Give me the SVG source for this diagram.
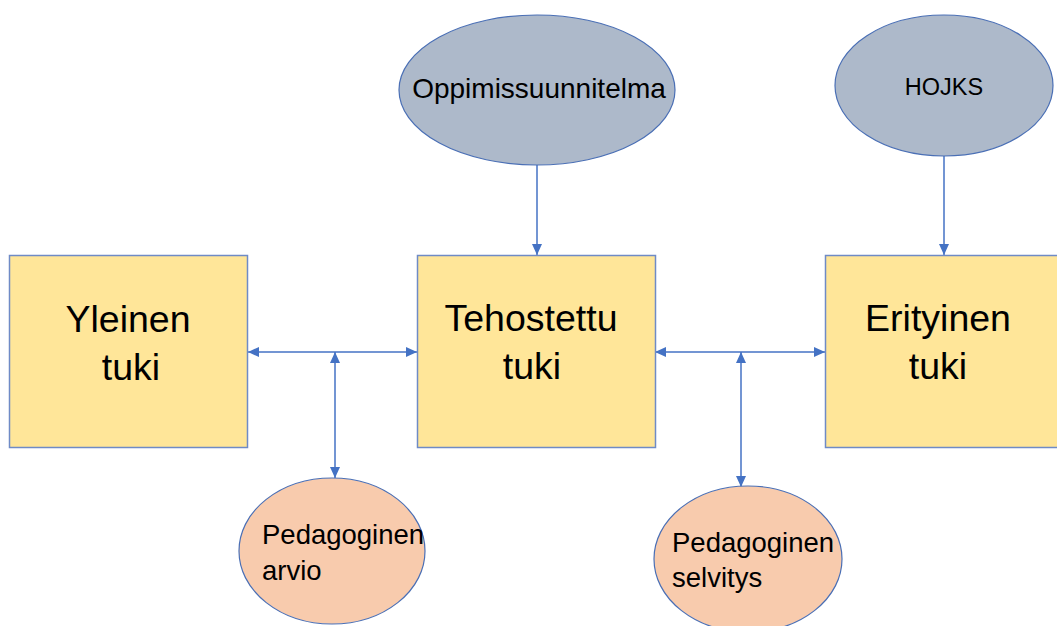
<svg xmlns="http://www.w3.org/2000/svg" width="1057" height="626" viewBox="0 0 1057 626">
<style>
.box{fill:#FFE699;stroke:#6F8BC6;stroke-width:1.5}
.top{fill:#ADB9CA;stroke:#4A6FB5;stroke-width:1.2}
.bot{fill:#F8CBAD;stroke:#4A6FB5;stroke-width:1.2}
.con{stroke:#4472C4;stroke-width:1.5;fill:none}
text{font-family:"Liberation Sans",Arial,sans-serif;fill:#000}
.big{font-size:37.5px;text-anchor:middle}
.mid{font-size:28px}
.ped{font-size:27.5px}
</style>
<defs>
<marker id="ah" markerUnits="userSpaceOnUse" markerWidth="12" markerHeight="10" viewBox="0 0 12 10" refX="11" refY="5" orient="auto-start-reverse">
<path d="M0,0 L11,5 L0,10 z" fill="#4472C4"/>
</marker>
</defs>
<rect width="1057" height="626" fill="#fff"/>
<g id="connectors">
<line class="con" x1="537" y1="165" x2="537" y2="255" marker-end="url(#ah)"/>
<line class="con" x1="944" y1="156" x2="944" y2="255" marker-end="url(#ah)"/>
<line class="con" x1="248" y1="352" x2="417" y2="352" marker-start="url(#ah)" marker-end="url(#ah)"/>
<line class="con" x1="335" y1="352" x2="335" y2="478" marker-start="url(#ah)" marker-end="url(#ah)"/>
<line class="con" x1="655" y1="352" x2="825" y2="352" marker-start="url(#ah)" marker-end="url(#ah)"/>
<line class="con" x1="741" y1="352" x2="741" y2="487" marker-start="url(#ah)" marker-end="url(#ah)"/>
</g>
<g id="yleinen">
<rect class="box" x="9.5" y="255.5" width="238" height="192"/>
<text class="big" x="128" y="332">Yleinen</text>
<text class="big" x="131" y="380">tuki</text>
</g>
<g id="tehostettu">
<rect class="box" x="417.5" y="255.5" width="238" height="192"/>
<text class="big" x="531" y="331">Tehostettu</text>
<text class="big" x="532" y="379">tuki</text>
</g>
<g id="erityinen">
<rect class="box" x="825.5" y="255.5" width="238" height="192"/>
<text class="big" x="938" y="331">Erityinen</text>
<text class="big" x="938" y="379">tuki</text>
</g>
<g id="oppimissuunnitelma">
<ellipse class="top" cx="537" cy="90" rx="138" ry="75"/>
<text class="mid" x="539" y="98" text-anchor="middle">Oppimissuunnitelma</text>
</g>
<g id="hojks">
<ellipse class="top" cx="944" cy="85.5" rx="109" ry="70.5"/>
<text x="944" y="95" font-size="23.5" text-anchor="middle">HOJKS</text>
</g>
<g id="arvio">
<ellipse class="bot" cx="332" cy="551" rx="93" ry="73"/>
<text class="ped" x="262" y="544">Pedagoginen</text>
<text class="ped" x="262" y="580">arvio</text>
</g>
<g id="selvitys">
<ellipse class="bot" cx="748" cy="559" rx="94" ry="73"/>
<text class="ped" x="672" y="552">Pedagoginen</text>
<text class="ped" x="672" y="587">selvitys</text>
</g>
</svg>
